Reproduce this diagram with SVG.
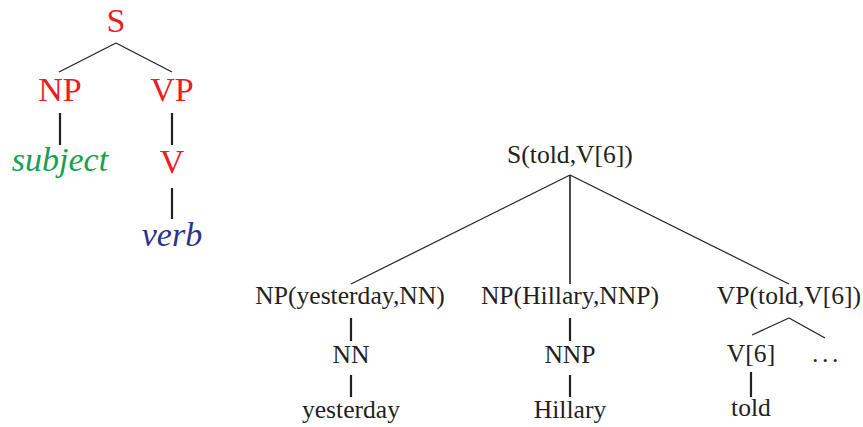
<svg xmlns="http://www.w3.org/2000/svg" width="863" height="427" viewBox="0 0 863 427">
  <style>
    .lbl { font-family: "Liberation Serif", "Times New Roman", Tinos, "DejaVu Serif", serif; text-anchor: middle; }
    .big { font-size: 34px; }
    .cat { fill: #ed1c24; }
    .subj { fill: #16a04f; font-style: italic; }
    .verb { fill: #2e3192; font-style: italic; }
    .small { font-size: 25.6px; fill: #231f20; }
    .thin { stroke: #231f20; stroke-width: 1.2; fill: none; }
    .thick { stroke: #231f20; stroke-width: 2.2; fill: none; }
  </style>
  <rect width="863" height="427" fill="#ffffff"/>

  <!-- connectors -->
  <g id="connectors">
    <!-- schematic tree -->
    <line class="thin" x1="116" y1="43" x2="59" y2="72"/>
    <line class="thin" x1="116" y1="43" x2="172" y2="72"/>
    <line class="thick" x1="60" y1="113" x2="60" y2="145"/>
    <line class="thick" x1="172" y1="113" x2="172" y2="145"/>
    <line class="thick" x1="172" y1="188" x2="172" y2="219"/>
    <!-- lexicalized tree -->
    <line class="thin" x1="570" y1="175" x2="351" y2="284"/>
    <line class="thick" x1="570" y1="175" x2="570" y2="284" style="stroke-width:1.6"/>
    <line class="thin" x1="570" y1="175" x2="789" y2="284"/>
    <line class="thick" x1="351" y1="318" x2="351" y2="341"/>
    <line class="thick" x1="351" y1="375" x2="351" y2="397"/>
    <line class="thick" x1="570" y1="318" x2="570" y2="341"/>
    <line class="thick" x1="570" y1="375" x2="570" y2="397"/>
    <line class="thin" x1="789" y1="318" x2="752" y2="335"/>
    <line class="thin" x1="789" y1="318" x2="825" y2="338"/>
    <line class="thick" x1="751" y1="372" x2="751" y2="397"/>
  </g>

  <!-- schematic tree nodes -->
  <g id="s"><text class="lbl big cat" x="116" y="32">S</text></g>
  <g id="np"><text class="lbl big cat" x="60" y="101">NP</text></g>
  <g id="vp"><text class="lbl big cat" x="172" y="101">VP</text></g>
  <g id="subject"><text class="lbl big subj" x="60" y="171">subject</text></g>
  <g id="v"><text class="lbl big cat" x="172" y="173">V</text></g>
  <g id="verb"><text class="lbl big verb" x="172" y="246">verb</text></g>

  <!-- lexicalized tree nodes -->
  <g id="s-told"><text class="lbl small" x="570" y="163">S(told,V[6])</text></g>
  <g id="np-yesterday"><text class="lbl small" x="350" y="304">NP(yesterday,NN)</text></g>
  <g id="np-hillary"><text class="lbl small" x="570" y="304">NP(Hillary,NNP)</text></g>
  <g id="vp-told"><text class="lbl small" x="789" y="304">VP(told,V[6])</text></g>
  <g id="nn"><text class="lbl small" x="351" y="363">NN</text></g>
  <g id="nnp"><text class="lbl small" x="570" y="363">NNP</text></g>
  <g id="v6"><text class="lbl small" x="751" y="362">V[6]</text></g>
  <g id="dots"><text class="small" font-family="'Liberation Serif', 'DejaVu Serif', serif" x="812 822 832" y="362">...</text></g>
  <g id="w-yesterday"><text class="lbl small" x="351" y="418">yesterday</text></g>
  <g id="w-hillary"><text class="lbl small" x="570" y="418">Hillary</text></g>
  <g id="w-told"><text class="lbl small" x="751" y="416">told</text></g>
</svg>
